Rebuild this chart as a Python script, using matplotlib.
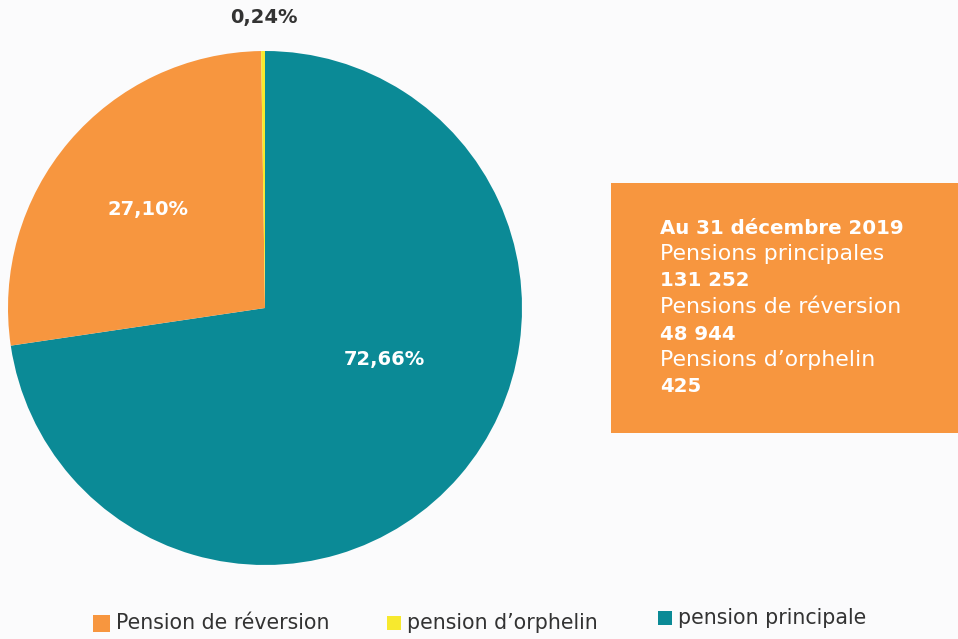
import matplotlib.pyplot as plt
from matplotlib.patches import Rectangle

# Data
labels = ['pension principale', 'Pension de réversion', "pension d’orphelin"]
shares = [72.66, 27.10, 0.24]
share_texts = ['72,66%', '27,10%', '0,24%']
colors = ['#0B8A96', '#F7963F', '#F7E92E']

box_lines = ['Au 31 décembre 2019', 'Pensions principales', '131 252',
             'Pensions de réversion', '48 944', "Pensions d’orphelin", '425']
box_bold = [True, False, True, False, True, False, True]

plt.rcParams['font.family'] = ['DejaVu Sans']

W, H = 958, 639
fig = plt.figure(figsize=(W / 100, H / 100), dpi=100)
fig.patch.set_facecolor('#FBFBFC')

# Pie
ax = fig.add_axes([8 / W, 74 / H, 514 / W, 514 / H])
wedges, _ = ax.pie(shares, colors=colors, startangle=90, counterclock=False,
                   radius=1, wedgeprops=dict(linewidth=0))
ax.set_xlim(-1, 1)
ax.set_ylim(-1, 1)
ax.set_aspect('equal')
ax.axis('off')

# Percent labels (figure pixel positions)
def fx(x):
    return x / W

def fy(y):
    return 1 - y / H

fig.text(fx(384), fy(360), share_texts[0], color='white', fontsize=14,
         fontweight='bold', ha='center', va='center')
fig.text(fx(148), fy(209), share_texts[1], color='white', fontsize=14,
         fontweight='bold', ha='center', va='center')
fig.text(fx(264), fy(18), share_texts[2], color='#333333', fontsize=14,
         fontweight='bold', ha='center', va='center')

# Info box
fig.patches.append(Rectangle((fx(611), fy(433)), (W - 611) / W, (433 - 183) / H,
                             transform=fig.transFigure, facecolor='#F7963F',
                             edgecolor='none', zorder=0))
y0 = 228
for i, (line, bold) in enumerate(zip(box_lines, box_bold)):
    fig.text(fx(660), fy(y0 + i * 26.5), line, color='white',
             fontsize=14.2 if bold else 15.8,
             fontweight='bold' if bold else 'normal', ha='left', va='center')

# Legend
legend_items = [
    (labels[1], colors[1], 93, 623, 17),
    (labels[2], colors[2], 387, 623, 14),
    (labels[0], colors[0], 658, 618, 14),
]
for text, col, x, yc, s in legend_items:
    fig.patches.append(Rectangle((fx(x), fy(yc + s / 2)), s / W, s / H,
                                 transform=fig.transFigure, facecolor=col,
                                 edgecolor='none'))
    fig.text(fx(x + s + 6), fy(yc), text, color='#333333', fontsize=14.8,
             ha='left', va='center')

fig.savefig('out.png', dpi=100, facecolor=fig.get_facecolor())
